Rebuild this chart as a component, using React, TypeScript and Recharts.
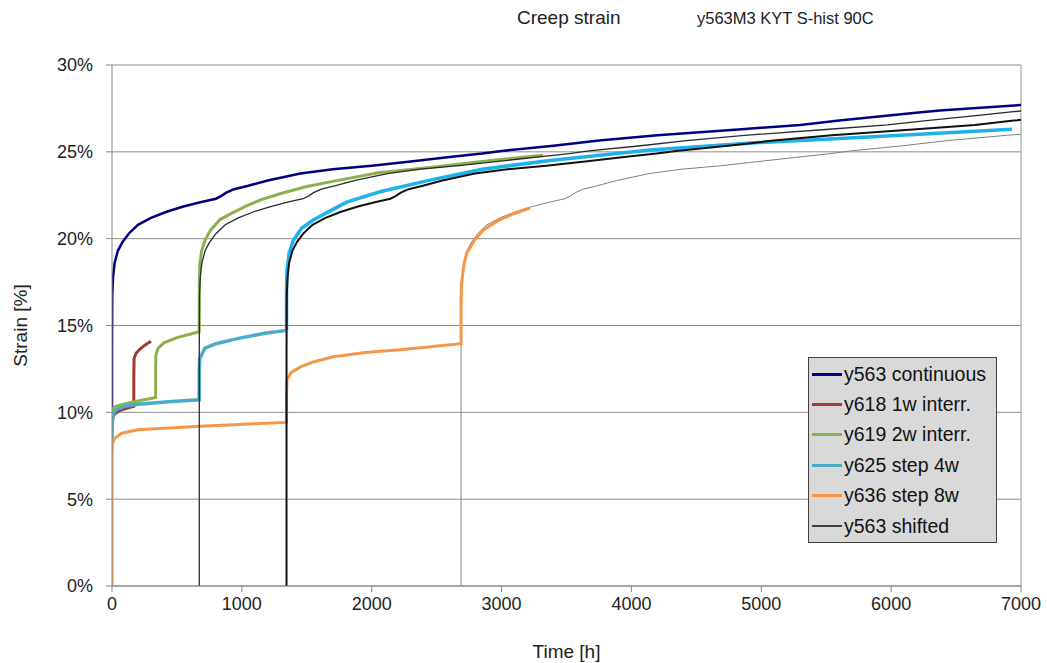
import { LineChart, Line, XAxis, YAxis, CartesianGrid, ReferenceLine } from 'recharts';

// time [h], strain [%]
const y563: [number, number][] = [
  [0, 10.3], [0, 13.5], [2, 16.8], [8, 17.8], [20, 18.6], [45, 19.3], [80, 19.8], [130, 20.3],
  [200, 20.8], [300, 21.2], [420, 21.55], [550, 21.85], [680, 22.1], [800, 22.3], [840, 22.45],
  [880, 22.65], [940, 22.85], [1050, 23.05], [1200, 23.35], [1450, 23.75], [1700, 24.0],
  [2000, 24.2], [2300, 24.45], [2600, 24.7], [2850, 24.9], [3000, 25.05], [3400, 25.35],
  [3750, 25.65], [4200, 25.95], [4850, 26.3], [5300, 26.55], [5600, 26.8], [6000, 27.1],
  [6250, 27.3], [6400, 27.4], [7000, 27.7],
];

const y618: [number, number][] = [
  [0, 9.3], [5, 9.7], [20, 9.9], [60, 10.1], [100, 10.2], [168, 10.35], [168, 12.0],
  [170, 13.1], [185, 13.4], [210, 13.6], [250, 13.85], [300, 14.1],
];

const y619: [number, number][] = [
  [0, 9.9], [5, 10.2], [30, 10.35], [100, 10.5], [200, 10.65], [336, 10.85], [336, 12.5],
  [338, 13.3], [355, 13.7], [400, 14.0], [500, 14.3], [600, 14.5], [672, 14.65], [672, 17.0],
  [676, 18.5], [690, 19.3], [716, 19.9], [760, 20.5], [832, 21.1], [930, 21.5], [1040, 21.9],
  [1150, 22.25], [1300, 22.6], [1500, 23.0], [1700, 23.3], [2050, 23.8], [2450, 24.1],
  [2850, 24.45], [3320, 24.8],
];

const y625: [number, number][] = [
  [0, 8.2], [2, 9.4], [10, 9.9], [30, 10.15], [100, 10.35], [200, 10.46], [460, 10.62],
  [672, 10.72], [672, 12.4], [676, 13.1], [716, 13.7], [800, 13.95], [973, 14.26],
  [1178, 14.55], [1344, 14.72],
];

const y625late: [number, number][] = [
  [1344, 14.72], [1344, 17.0], [1348, 18.2], [1365, 19.2], [1396, 19.9], [1460, 20.6],
  [1550, 21.07], [1680, 21.6], [1807, 22.1], [2064, 22.7], [2449, 23.37], [2850, 24.0],
  [3373, 24.5], [4143, 25.1], [4900, 25.5], [5863, 25.87], [6930, 26.3],
];

const y636: [number, number][] = [
  [0, 0], [0, 7.5], [3, 8.2], [20, 8.5], [75, 8.8], [200, 9.0], [678, 9.2], [1344, 9.42],
  [1344, 11.0], [1348, 11.9], [1380, 12.3], [1448, 12.6], [1550, 12.9], [1704, 13.2],
  [1950, 13.45], [2218, 13.6], [2688, 13.95], [2688, 16.5], [2692, 17.4], [2710, 18.5],
  [2731, 19.15], [2790, 19.9], [2859, 20.5], [2988, 21.1], [3100, 21.45], [3220, 21.78],
];

// y563 shifted by 4, 8 and 16 weeks
const shiftHours = [672, 1344, 2688];

const xTicks = [0, 1000, 2000, 3000, 4000, 5000, 6000, 7000];
const yTicks = [0, 5, 10, 15, 20, 25, 30];

const legendNames = [
  'y563 continuous',
  'y618 1w interr.',
  'y619 2w interr.',
  'y625 step 4w',
  'y636 step 8w',
  'y563 shifted',
];
const legendColors = ['#000080', '#9e3b37', '#8db04e', '#4bacc6', '#f79646', '#404040'];

const toPoints = (rows: [number, number][]) => rows.map(([t, s]) => ({ t, s }));

const shifted = shiftHours.map((h) => [{ t: h, s: 0 }, ...y563.map(([t, s]) => ({ t: t + h, s }))]);

const FONT = '"Liberation Sans", Arial, sans-serif';

export default function App() {
  return (
    <div style={{ position: 'absolute', left: 0, top: 0, width: 1047, height: 663, background: '#fff', fontFamily: FONT }}>
      <div style={{ position: 'absolute', left: 517, top: 7, fontSize: 19, color: '#222' }}>Creep strain</div>
      <div style={{ position: 'absolute', left: 697, top: 9, fontSize: 16.5, color: '#222' }}>y563M3 KYT S-hist 90C</div>

      <LineChart width={1047} height={663} margin={{ top: 65, right: 26, left: 0, bottom: 0 }} style={{ fontFamily: FONT }}>
        <CartesianGrid vertical={false} stroke="#8c8c8c" strokeWidth={1} />
        <XAxis
          dataKey="t"
          type="number"
          domain={[0, 7000]}
          ticks={xTicks}
          allowDataOverflow
          height={77}
          tickSize={6}
          tickMargin={5}
          stroke="#888"
          tick={{ fontSize: 18, fill: '#222' }}
          label={{ value: 'Time [h]', position: 'insideBottom', offset: 5, style: { fontSize: 19, fill: '#222' } }}
        />
        <YAxis
          dataKey="s"
          type="number"
          domain={[0, 30]}
          ticks={yTicks}
          allowDataOverflow
          width={112}
          tickSize={6}
          tickMargin={13}
          stroke="#888"
          tickFormatter={(v) => `${v}%`}
          tick={{ fontSize: 18, fill: '#222' }}
          label={{ value: 'Strain [%]', angle: -90, position: 'insideLeft', offset: 20, style: { fontSize: 19, fill: '#222', textAnchor: 'middle' } }}
        />
        <ReferenceLine x={7000} stroke="#999" />

        <Line data={shifted[2]} dataKey="s" type="linear" stroke="#808080" strokeWidth={1} dot={false} activeDot={false} isAnimationActive={false} />
        <Line data={toPoints(y563)} dataKey="s" type="linear" stroke="#000080" strokeWidth={2.5} dot={false} activeDot={false} isAnimationActive={false} />
        <Line data={toPoints(y618)} dataKey="s" type="linear" stroke="#9e3b37" strokeWidth={3} dot={false} activeDot={false} isAnimationActive={false} />
        <Line data={toPoints(y619)} dataKey="s" type="linear" stroke="#8db04e" strokeWidth={3} dot={false} activeDot={false} isAnimationActive={false} />
        <Line data={toPoints(y625)} dataKey="s" type="linear" stroke="#4bacc6" strokeWidth={3.5} dot={false} activeDot={false} isAnimationActive={false} />
        <Line data={toPoints(y625late)} dataKey="s" type="linear" stroke="#1fb2ea" strokeWidth={3.5} dot={false} activeDot={false} isAnimationActive={false} />
        <Line data={toPoints(y636)} dataKey="s" type="linear" stroke="#f79646" strokeWidth={3} dot={false} activeDot={false} isAnimationActive={false} />
        <Line data={shifted[0]} dataKey="s" type="linear" stroke="#2a2a2a" strokeWidth={1.3} dot={false} activeDot={false} isAnimationActive={false} />
        <Line data={shifted[1]} dataKey="s" type="linear" stroke="#111" strokeWidth={2} dot={false} activeDot={false} isAnimationActive={false} />
      </LineChart>

      <div
        style={{
          position: 'absolute',
          left: 808,
          top: 357,
          width: 187,
          height: 183,
          background: '#d9d9d9',
          border: '1.5px solid #404040',
          paddingTop: 1,
          boxSizing: 'content-box',
        }}
      >
        {legendNames.map((name, i) => (
          <div key={name} style={{ display: 'flex', alignItems: 'center', height: 30.4 }}>
            <div
              style={{
                width: 30,
                height: i === 5 ? 1.5 : 3,
                marginLeft: 3,
                marginRight: 2,
                background: legendColors[i],
              }}
            />
            <span style={{ fontSize: 19.5, color: '#111', whiteSpace: 'nowrap' }}>{name}</span>
          </div>
        ))}
      </div>
    </div>
  );
}
